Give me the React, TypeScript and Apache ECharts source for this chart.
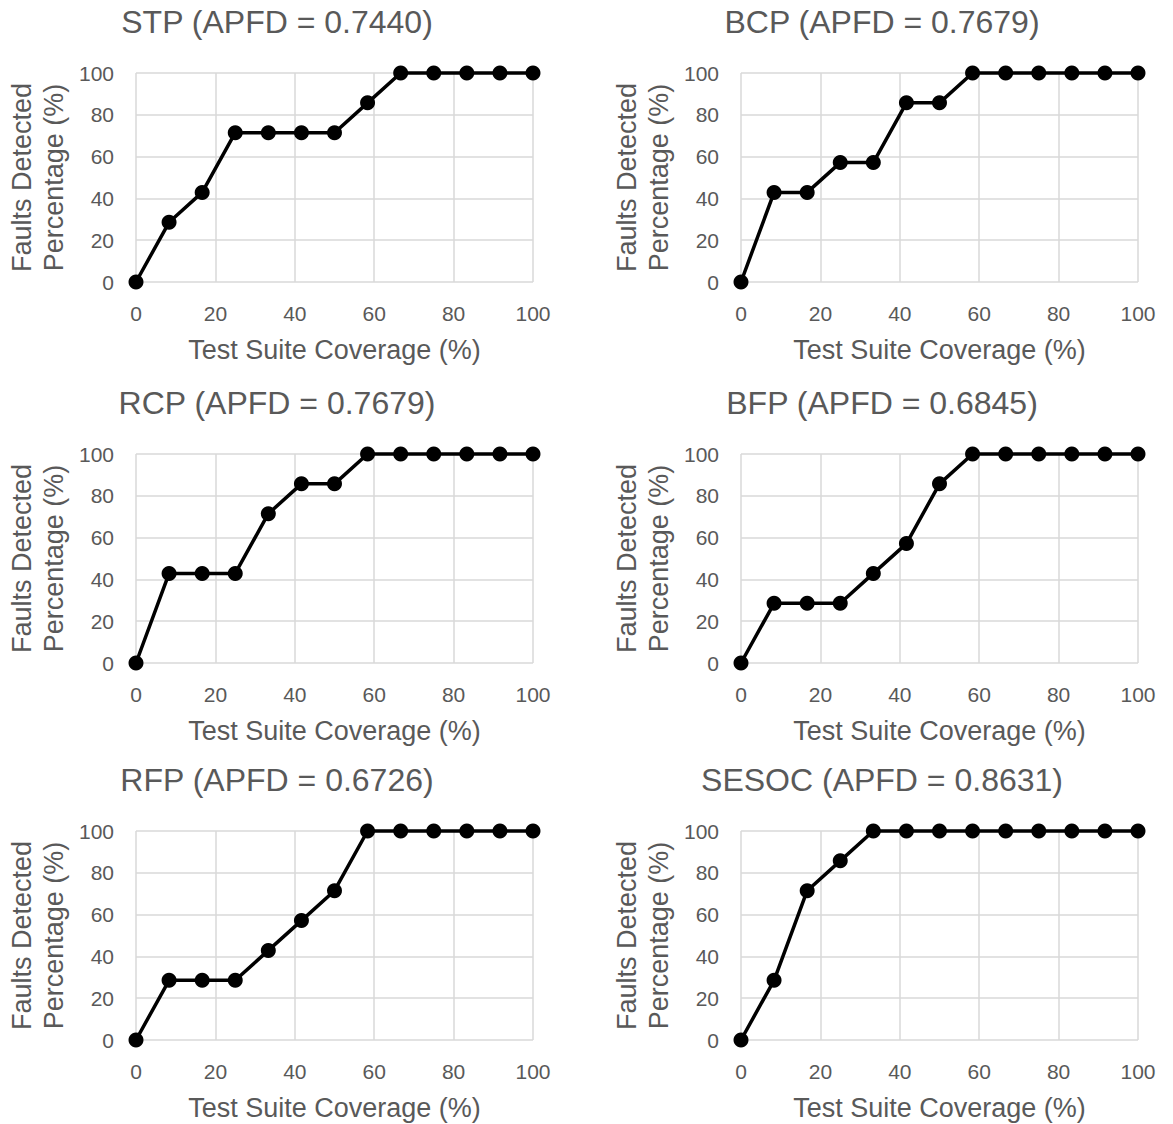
import React, { useEffect, useRef } from "react";
import * as echarts from "echarts";

const coverage = [0, 8.33, 16.67, 25, 33.33, 41.67, 50, 58.33, 66.67, 75, 83.33, 91.67, 100];

const stp = [0, 28.57, 42.86, 71.43, 71.43, 71.43, 71.43, 85.71, 100, 100, 100, 100, 100];
const bcp = [0, 42.86, 42.86, 57.14, 57.14, 85.71, 85.71, 100, 100, 100, 100, 100, 100];
const rcp = [0, 42.86, 42.86, 42.86, 71.43, 85.71, 85.71, 100, 100, 100, 100, 100, 100];
const bfp = [0, 28.57, 28.57, 28.57, 42.86, 57.14, 85.71, 100, 100, 100, 100, 100, 100];
const rfp = [0, 28.57, 28.57, 28.57, 42.86, 57.14, 71.43, 100, 100, 100, 100, 100, 100];
const sesoc = [0, 28.57, 71.43, 85.71, 100, 100, 100, 100, 100, 100, 100, 100, 100];

const titles = [
  "STP (APFD = 0.7440)",
  "BCP (APFD = 0.7679)",
  "RCP (APFD = 0.7679)",
  "BFP (APFD = 0.6845)",
  "RFP (APFD = 0.6726)",
  "SESOC (APFD = 0.8631)",
];
const seriesValues = [stp, bcp, rcp, bfp, rfp, sesoc];

const xTicks = [0, 20, 40, 60, 80, 100];
const xAxisName = "Test Suite Coverage (%)";
const yAxisName = "Faults Detected\nPercentage (%)";

const FONT = "'Liberation Sans', Arial, sans-serif";
const TEXT = "#595959";
const GRID = "#d9d9d9";

export default function App() {
  const ref = useRef<HTMLDivElement>(null);

  useEffect(() => {
    if (!ref.current) return;
    const chart = echarts.init(ref.current, undefined, { renderer: "svg" });

    const colLeft = [136, 741];
    const colCenter = [277, 882];
    const rowTop = [73, 454, 831];
    const plotW = 397;
    const plotH = 209;

    const grids: any[] = [];
    const xAxes: any[] = [];
    const yAxes: any[] = [];
    const series: any[] = [];
    const titleArr: any[] = [];

    seriesValues.forEach((vals, i) => {
      const col = i % 2;
      const row = Math.floor(i / 2);
      grids.push({
        left: colLeft[col],
        top: rowTop[row],
        width: plotW,
        height: plotH,
        containLabel: false,
      });
      titleArr.push({
        text: titles[i],
        left: colCenter[col],
        top: rowTop[row] - 67,
        textAlign: "center",
        padding: 0,
        textStyle: {
          fontFamily: FONT,
          fontSize: 32,
          fontWeight: "normal",
          color: TEXT,
        },
      });
      xAxes.push({
        type: "value",
        gridIndex: i,
        min: xTicks[0],
        max: xTicks[xTicks.length - 1],
        interval: 20,
        name: xAxisName,
        nameLocation: "middle",
        nameGap: 54,
        nameTextStyle: { fontFamily: FONT, fontSize: 27, color: TEXT },
        axisLine: { show: false },
        axisTick: { show: false },
        axisLabel: { fontFamily: FONT, fontSize: 21, color: TEXT, margin: 21 },
        splitLine: { show: true, lineStyle: { color: GRID, width: 1.5 } },
      });
      yAxes.push({
        type: "value",
        gridIndex: i,
        min: 0,
        max: 100,
        interval: 20,
        name: yAxisName,
        nameLocation: "middle",
        nameRotate: 90,
        nameGap: 66,
        nameTextStyle: { fontFamily: FONT, fontSize: 27, color: TEXT, lineHeight: 32 },
        axisLine: { show: false },
        axisTick: { show: false },
        axisLabel: { fontFamily: FONT, fontSize: 21, color: TEXT, margin: 22 },
        splitLine: { show: true, lineStyle: { color: GRID, width: 1.5 } },
      });
      series.push({
        type: "line",
        xAxisIndex: i,
        yAxisIndex: i,
        data: coverage.map((x, k) => [x, vals[k]]),
        symbol: "circle",
        symbolSize: 15,
        showSymbol: true,
        lineStyle: { color: "#000", width: 3.5 },
        itemStyle: { color: "#000" },
        clip: false,
      });
    });

    chart.setOption({
      animation: false,
      backgroundColor: "#fff",
      title: titleArr,
      grid: grids,
      xAxis: xAxes,
      yAxis: yAxes,
      series,
    });

    return () => chart.dispose();
  }, []);

  return (
    <div
      ref={ref}
      style={{ position: "absolute", left: 0, top: 0, width: 1173, height: 1124 }}
    />
  );
}
